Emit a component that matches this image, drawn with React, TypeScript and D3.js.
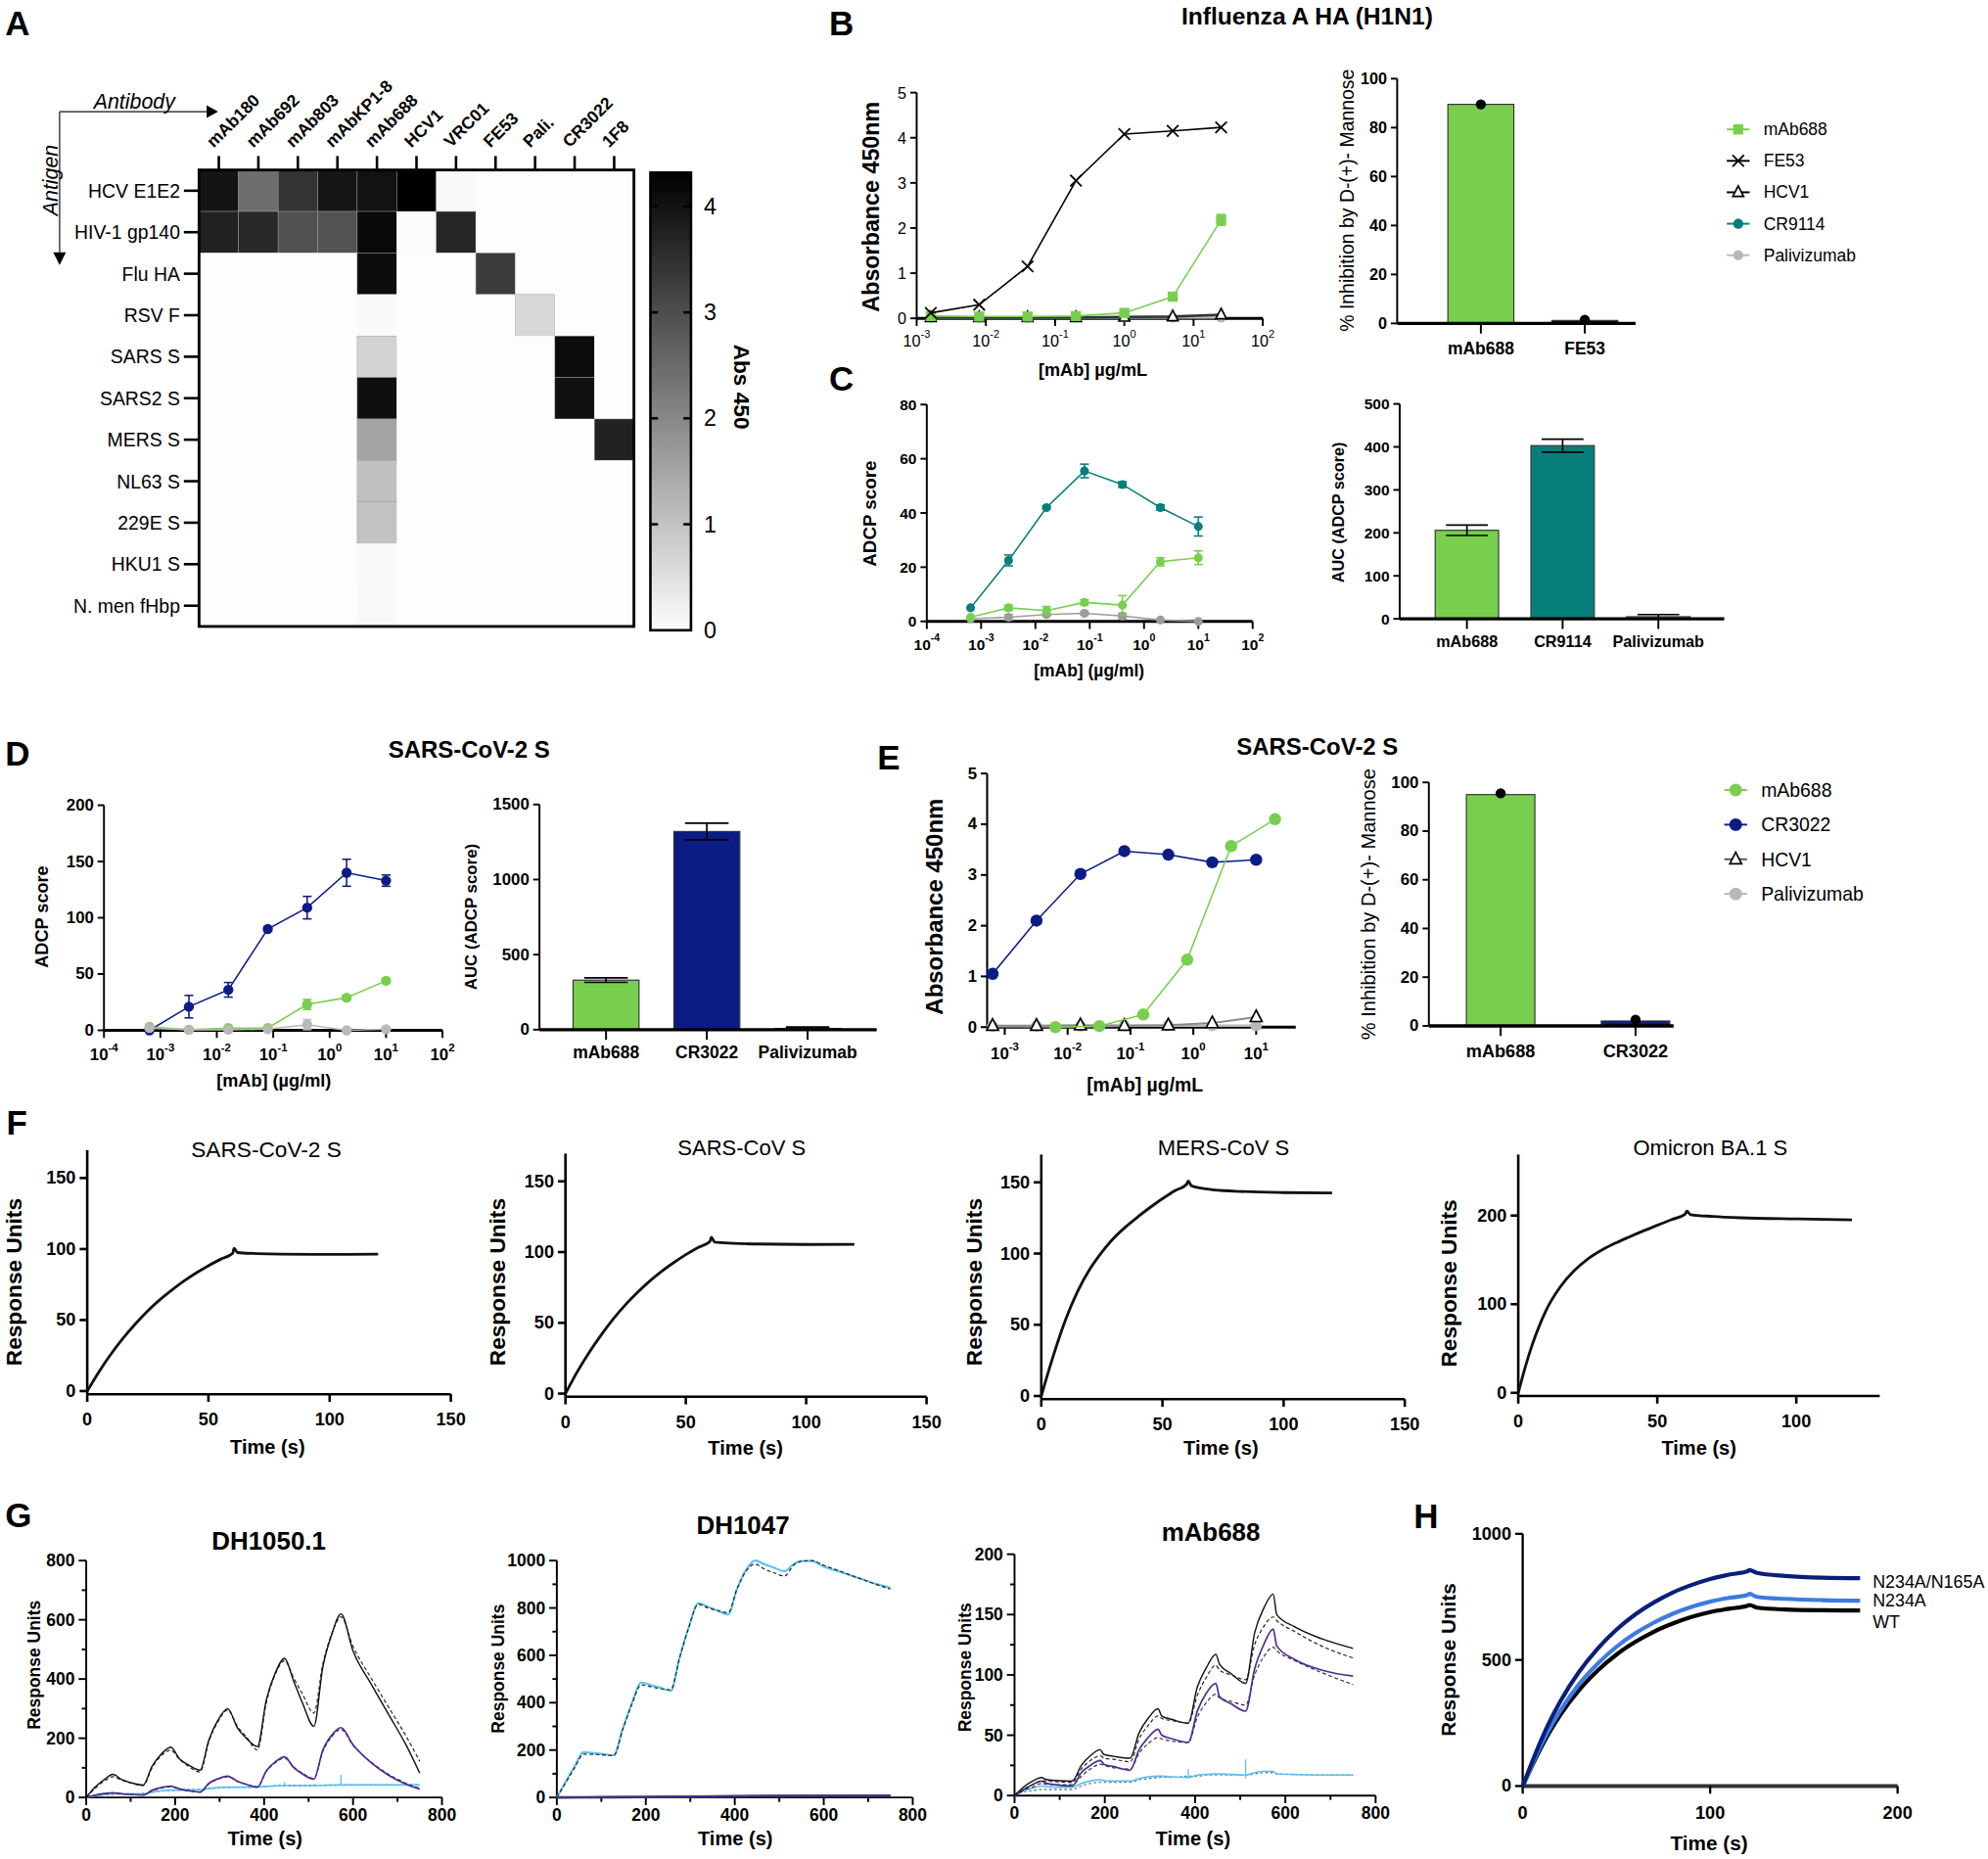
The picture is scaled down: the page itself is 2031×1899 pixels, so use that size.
import React from 'react';
import * as d3 from 'd3';

const FONT = "'Liberation Sans', Arial, Helvetica, sans-serif";
const GREEN = '#78cf4d';
const TEAL = '#077f7b';
const NAVY = '#0c1c85';
const LGRAY = '#b8b8b8';
const MGRAY = '#9c9c9c';
const PURPLE = '#4d2c91';
const CYAN = '#58c3f0';
const BLUE = '#3c7be3';
const DNAVY = '#0b1e78';

// ---------------- Panel A ----------------
const antibodies = ['mAb180', 'mAb692', 'mAb803', 'mAbKP1-8', 'mAb688', 'HCV1', 'VRC01', 'FE53', 'Pali.', 'CR3022', '1F8'];
const antigens = ['HCV E1E2', 'HIV-1 gp140', 'Flu HA', 'RSV F', 'SARS S', 'SARS2 S', 'MERS S', 'NL63 S', '229E S', 'HKU1 S', 'N. men fHbp'];
const absMatrix = [
  [3.97, 2.44, 3.45, 3.94, 4.02, 4.32, 0.06, 0, 0, 0, 0],
  [3.74, 3.62, 2.95, 2.9, 4.17, 0.04, 3.67, 0, 0, 0, 0],
  [0, 0, 0, 0, 4.1, 0, 0, 3.3, 0, 0, 0],
  [0, 0, 0, 0, 0.05, 0, 0, 0, 0.63, 0, 0],
  [0, 0, 0, 0, 0.72, 0, 0, 0, 0, 4.13, 0],
  [0, 0, 0, 0, 4.06, 0, 0, 0, 0, 4.03, 0],
  [0, 0, 0, 0, 1.52, 0, 0, 0, 0, 0, 3.74],
  [0, 0, 0, 0, 1.05, 0, 0, 0, 0, 0, 0],
  [0, 0, 0, 0, 1.0, 0, 0, 0, 0, 0, 0],
  [0, 0, 0, 0, 0.05, 0, 0, 0, 0, 0, 0],
  [0, 0, 0, 0, 0.08, 0, 0, 0, 0, 0, 0],
];
const absMax = 4.32;
const colorbarTicks = [0, 1, 2, 3, 4];

// ---------------- Panel B ----------------
const concB = [0.0016, 0.008, 0.04, 0.2, 1, 5, 25];
const bFE53 = [0.12, 0.3, 1.15, 3.05, 4.08, 4.15, 4.23];
const bMab688 = [0.05, 0.04, 0.04, 0.05, 0.12, 0.48, 2.18];
const bMab688Err = [0, 0, 0, 0.03, 0.05, 0.08, 0.12];
const bHCV1 = [0.02, 0.02, 0.02, 0.02, 0.03, 0.04, 0.08];
const bCR9114 = [0.01, 0.01, 0.01, 0.01, 0.01, 0.01, 0.01];
const bPali = [0.01, 0.01, 0.01, 0.01, 0.01, 0.01, 0.01];
const bInhibCats = ['mAb688', 'FE53'];
const bInhibVals = [89.5, 1.2];
const bInhibDots = [89.5, 1.5];

// ---------------- Panel C ----------------
const concADCP = [0.00064, 0.0032, 0.016, 0.08, 0.4, 2, 10];
const cCR9114 = [5, 22.5, 42, 55.5, 50.5, 42, 35];
const cCR9114Err = [0, 2, 0.5, 2.5, 1, 1, 3.5];
const cMab688 = [1.5, 5, 4, 7, 6, 22, 23.5];
const cMab688Err = [0, 1, 1.5, 1, 3.5, 1.5, 2.5];
const cPali = [1, 1.5, 2.5, 3, 2, 0.5, 0];
const cPaliErr = [0, 1, 0.5, 0.5, 1, 0, 0];
const cAucCats = ['mAb688', 'CR9114', 'Palivizumab'];
const cAucVals = [206, 403, 5];
const cAucErr = [12, 15, 5];

// ---------------- Panel D ----------------
const dCR3022 = [0, 21, 36, 90, 109, 140, 133];
const dCR3022Err = [0, 10, 6.5, 2, 10, 12, 5];
const dMab688 = [3, 0.5, 2, 2, 23, 29, 44];
const dMab688Err = [0, 0, 0, 0, 4.5, 2, 2];
const dPali = [2, 0.5, 0.5, 1, 5, 0, 1];
const dPaliErr = [0, 0, 0, 0, 4.5, 0, 0];
const dAucCats = ['mAb688', 'CR3022', 'Palivizumab'];
const dAucVals = [330, 1320, 8];
const dAucErr = [15, 55, 10];

// ---------------- Panel E ----------------
const eCR3022 = [1.05, 2.1, 3.02, 3.47, 3.4, 3.25, 3.3];
const concEmAb688 = [0.0064, 0.032, 0.16, 0.8, 4, 20];
const eMab688 = [0.0, 0.02, 0.25, 1.33, 3.57, 4.1];
const eHCV1 = [0.03, 0.03, 0.04, 0.03, 0.04, 0.08, 0.2];
const ePali = [0.02, 0.02, 0.02, 0.03, 0.03, 0.03, 0.03];
const eInhibCats = ['mAb688', 'CR3022'];
const eInhibVals = [95, 2];
const eInhibDots = [95.5, 2.5];

// ---------------- Panel F ----------------
const fTime = [0, 5, 10, 15, 20, 25, 30, 35, 40, 45, 50, 55, 60, 60.6, 62, 70, 80, 100, 120];
const fSars2 = [0, 14, 26.5, 37.6, 47.5, 56.5, 64.3, 71.2, 77.6, 83.2, 88.3, 92.8, 97, 100.5, 97.5, 96.8, 96.4, 96.2, 96.4];
const fSars = [0, 15.7, 29.5, 41.8, 53, 62.9, 71.6, 79.5, 86.5, 92.6, 98.2, 103.2, 107.5, 110.5, 107, 106.2, 105.7, 105.4, 105.5];
const fMers = [0, 28.5, 53.5, 73.5, 89, 101, 111, 119, 126, 132.5, 138.5, 144, 148.7, 151, 147.5, 145, 143.8, 142.8, 142.5];
const fTimeOmi = [0, 2.5, 5, 7.5, 10, 15, 20, 25, 30, 35, 40, 45, 50, 55, 60, 60.6, 62, 70, 80, 100, 120];
const fOmicron = [0, 29, 54, 75, 93, 119, 137.5, 151, 161, 169, 176, 182.7, 189, 195.3, 201.5, 205, 201, 199, 197.5, 196.2, 195.2];

// ---------------- Panel G ----------------
const gTime = [0, 20, 40, 60, 80, 100, 128, 148, 168, 190, 210, 230, 256, 276, 296, 318, 340, 360, 385, 405, 425, 446, 466, 486, 512, 532, 552, 573, 600, 640, 680, 720, 750];
const g1Black = [0, 35, 60, 78, 60, 50, 42, 105, 145, 170, 130, 110, 92, 195, 260, 300, 235, 200, 172, 330, 420, 470, 395, 320, 240, 440, 550, 620, 495, 385, 280, 175, 82];
const g1BlackFit = [0, 30, 55, 70, 58, 49, 40, 100, 140, 160, 128, 105, 86, 190, 255, 295, 240, 205, 160, 320, 415, 462, 405, 350, 285, 450, 552, 610, 510, 405, 305, 205, 122];
const g1Purple = [0, 8, 13, 16, 12, 10, 8, 24, 33, 38, 29, 23, 18, 48, 63, 72, 55, 44, 35, 90, 120, 137, 102, 80, 62, 160, 210, 236, 178, 118, 75, 44, 28];
const g1PurpleFit = [0, 7, 12, 15, 12, 10, 8, 22, 31, 36, 28, 22, 18, 46, 61, 70, 54, 44, 36, 88, 117, 133, 103, 82, 64, 155, 205, 230, 176, 120, 78, 47, 30];
const g1Cyan = [0, 6, 10, 12, 12, 12, 12, 18, 22, 25, 25, 25, 26, 30, 33, 35, 35, 35, 35, 37, 39, 40, 40, 40, 40, 41, 42, 42, 42, 42, 42, 42, 42];
const g1CyanFit = [0, 5, 9, 11, 12, 12, 13, 18, 22, 24, 25, 26, 26, 30, 33, 34, 35, 35, 36, 38, 39, 40, 40, 40, 41, 41, 41, 42, 42, 42, 42, 42, 42];
const g1CyanSpikeT = [446, 512, 573];
const g1CyanSpikeV = [52, 46, 76];
const g2Cyan = [0, 68, 132, 192, 188, 184, 178, 290, 395, 485, 475, 465, 450, 590, 715, 820, 805, 790, 772, 880, 960, 1000, 985, 972, 955, 985, 998, 998, 975, 950, 925, 900, 885];
const g2CyanFit = [0, 62, 125, 183, 182, 180, 177, 285, 390, 475, 468, 460, 455, 590, 715, 815, 800, 790, 780, 880, 955, 985, 965, 950, 935, 980, 998, 1000, 980, 953, 925, 898, 880];
const g2LowTime = [0, 128, 256, 385, 512, 750];
const g2LowPurple = [0, 2, 4, 6, 8, 9];
const g2LowBlack = [0, 1, 2, 4, 5, 6];
const g3Time = [0, 20, 40, 60, 68, 90, 128, 148, 168, 190, 198, 220, 256, 276, 296, 318, 326, 350, 385, 405, 425, 446, 454, 480, 512, 532, 552, 573, 581, 620, 680, 750];
const g3Black = [0, 7, 12, 15, 13.5, 12.5, 12, 25, 33, 38, 34, 32.5, 31, 52, 64, 72, 66, 63, 60, 90, 106, 117, 109, 101, 93, 135, 155, 167, 150, 140, 130, 122];
const g3BlackFit = [0, 5, 9, 12, 12, 11.5, 11, 22, 29, 33, 31, 30, 28, 47, 58, 66, 64, 62, 60, 83, 98, 108, 104, 100, 96, 125, 140, 148, 145, 136, 124, 114];
const g3Purple = [0, 5, 9, 12, 10.5, 9, 8, 19, 25, 29, 26, 24, 21, 38, 48, 55, 50, 47, 44, 70, 85, 93, 82, 76, 70, 105, 125, 138, 124, 113, 104, 99];
const g3PurpleFit = [0, 4, 7, 10, 9.5, 9, 9, 16, 22, 26, 25, 23, 22, 35, 43, 48, 47, 45, 44, 65, 77, 84, 81, 78, 75, 100, 115, 123, 120, 112, 102, 92];
const g3Cyan = [0, 4, 6, 8, 7.5, 7, 7, 10, 12, 13, 12.5, 12, 12, 14, 15.5, 16, 16, 15.5, 15, 17, 17.5, 18, 18, 17.5, 17, 19, 20, 20, 18, 17.5, 17, 17];
const g3GrayFit = [0, 3, 4, 5, 5, 5, 5, 8, 10, 11, 11, 11, 11, 13, 14, 15, 15, 15, 16, 16, 17, 17, 17, 17, 17, 18, 19, 19, 18, 17.5, 17, 17];
const g3CyanSpikeT = [128, 385, 512];
const g3CyanSpikeV = [13, 22, 30];

// ---------------- Panel H ----------------
const hTime = [0, 5, 10, 15, 20, 30, 40, 50, 60, 70, 80, 90, 100, 110, 120, 121, 125, 140, 160, 180];
const hDouble = [0, 95, 185, 265, 335, 452, 545, 620, 680, 728, 767, 797, 821, 838, 852, 856, 845, 833, 826, 824];
const hN234A = [0, 85, 165, 236, 298, 403, 485, 552, 605, 648, 683, 710, 731, 746, 758, 762, 750, 742, 737, 735];
const hWT = [0, 80, 155, 222, 281, 380, 458, 521, 571, 612, 644, 670, 690, 703, 715, 718, 707, 700, 697, 696];
const hLabels = ['N234A/N165A', 'N234A', 'WT'];

// ================= helpers =================
function T({ x, y, children, size = 13, anchor = 'middle', bold = false, italic = false, rotate = 0, fill = '#000', baseline = 'central' }: any) {
  return (
    <text transform={`translate(${x},${y}) rotate(${rotate})`} fontSize={size} textAnchor={anchor}
      fontWeight={bold ? 'bold' : 'normal'} fontStyle={italic ? 'italic' : 'normal'} dominantBaseline={baseline} fill={fill}>
      {children}
    </text>
  );
}

function Pow({ e, fs }: { e: number; fs: number }) {
  return <>10<tspan dy={-fs * 0.45} fontSize={fs * 0.68}>{e}</tspan></>;
}

function Marker({ kind, x, y, size, color }: { kind: string; x: number; y: number; size: number; color: string }) {
  if (kind === 'circle') return <circle cx={x} cy={y} r={size} fill={color} />;
  if (kind === 'square') return <rect x={x - size} y={y - size} width={size * 2} height={size * 2} fill={color} />;
  if (kind === 'x') return <path d={`M${x - size},${y - size}L${x + size},${y + size}M${x - size},${y + size}L${x + size},${y - size}`} stroke={color} strokeWidth={1.4} fill="none" />;
  if (kind === 'tri') return <path d={`M${x},${y - size}L${x + size * 0.85},${y + size * 0.65}L${x - size * 0.85},${y + size * 0.65}Z`} fill="#fff" stroke={color} strokeWidth={1.3} />;
  return null;
}

type LSeries = { x: number[]; y: number[]; err?: number[]; color: string; line: string; kind: string; size: number; lw?: number };

function LogLineChart(p: any) {
  const xs = d3.scaleLog().domain([10 ** p.lo, 10 ** p.hi]).range([p.x0, p.x1]);
  const ys = d3.scaleLinear().domain([0, p.yMax]).range([p.y0, p.y1]);
  const aw = p.aw ?? 1.5;
  const series: LSeries[] = p.series;
  return (
    <g>
      <g stroke="#000" strokeWidth={aw}>
        <line x1={p.x0} x2={p.x0} y1={p.y0 + aw / 2} y2={p.y1} />
        <line x1={p.x0} x2={p.x1} y1={p.y0} y2={p.y0} strokeWidth={aw + 0.8} />
        {p.yTicks.map((t: number) => <line key={t} x1={p.x0 - 5} x2={p.x0} y1={ys(t)} y2={ys(t)} />)}
        {p.xExps.map((e: number) => <line key={e} x1={xs(10 ** e)} x2={xs(10 ** e)} y1={p.y0} y2={p.y0 + 6} />)}
      </g>
      {p.yTicks.map((t: number) => <T key={t} x={p.x0 - 8} y={ys(t)} size={p.tf} bold={p.tb} anchor="end">{t}</T>)}
      {p.xExps.map((e: number) => <T key={e} x={xs(10 ** e)} y={p.y0 + p.xlOff} size={p.tf} bold={p.tb}><Pow e={e} fs={p.tf} /></T>)}
      {series.map((s, si) => {
        const pts = s.x.map((xv, i) => [xs(xv), ys(s.y[i])] as [number, number]);
        return (
          <g key={si}>
            <path d={d3.line()(pts) ?? ''} fill="none" stroke={s.line} strokeWidth={s.lw ?? 1.2} />
            {s.err && s.err.map((e, i) => e > 0 ? (
              <g key={i} stroke={s.line} strokeWidth={1.2}>
                <line x1={pts[i][0]} x2={pts[i][0]} y1={ys(s.y[i] - e)} y2={ys(s.y[i] + e)} />
                <line x1={pts[i][0] - 3.5} x2={pts[i][0] + 3.5} y1={ys(s.y[i] + e)} y2={ys(s.y[i] + e)} />
                <line x1={pts[i][0] - 3.5} x2={pts[i][0] + 3.5} y1={ys(s.y[i] - e)} y2={ys(s.y[i] - e)} />
              </g>) : null)}
            {pts.map((pt, i) => <Marker key={i} kind={s.kind} x={pt[0]} y={pt[1]} size={s.size} color={s.color} />)}
          </g>
        );
      })}
    </g>
  );
}

function BarChart(p: any) {
  const xs = d3.scalePoint<string>().domain(p.cats).range([p.c0, p.c1]);
  const ys = d3.scaleLinear().domain([0, p.yMax]).range([p.y0, p.y1]);
  const cap = p.bw * 0.33;
  return (
    <g>
      {p.cats.map((c: string, i: number) => {
        const cx = xs(c) as number;
        const v = p.vals[i];
        return (
          <g key={c}>
            <rect x={cx - p.bw / 2} y={ys(v)} width={p.bw} height={p.y0 - ys(v)} fill={p.colors[i]} stroke="#333" strokeWidth={0.9} />
            {p.errs && (
              <g stroke="#000" strokeWidth={1.3}>
                <line x1={cx} x2={cx} y1={ys(v - p.errs[i])} y2={ys(v + p.errs[i])} />
                <line x1={cx - cap} x2={cx + cap} y1={ys(v + p.errs[i])} y2={ys(v + p.errs[i])} />
                <line x1={cx - cap} x2={cx + cap} y1={ys(v - p.errs[i])} y2={ys(v - p.errs[i])} />
              </g>
            )}
            {p.dots && <circle cx={cx} cy={ys(p.dots[i])} r={4} fill="#000" />}
            <line x1={cx} x2={cx} y1={p.y0} y2={p.y0 + 8} stroke="#000" strokeWidth={1.5} />
            <T x={cx} y={p.y0 + p.labOff} size={p.lf} bold>{c}</T>
          </g>
        );
      })}
      <g stroke="#000" strokeWidth={1.5}>
        <line x1={p.x0} x2={p.x0} y1={p.y0} y2={p.y1} />
        {p.yTicks.map((t: number) => <line key={t} x1={p.x0 - 5} x2={p.x0} y1={ys(t)} y2={ys(t)} />)}
      </g>
      <line x1={p.x0} x2={p.x1} y1={p.y0} y2={p.y0} stroke="#000" strokeWidth={2.6} />
      {p.yTicks.map((t: number) => <T key={t} x={p.x0 - 8} y={ys(t)} size={p.tf} bold anchor="end">{t}</T>)}
    </g>
  );
}

type Curve = { t: number[]; v: number[]; color: string; w: number; dash?: string };

function SprChart(p: any) {
  const xs = d3.scaleLinear().domain([0, p.xMax]).range([p.x0, p.x1]);
  const ys = d3.scaleLinear().domain([0, p.yRef]).range([p.y0, p.yRefPx]);
  const ax = p.y0 + (p.axisOff ?? 0);
  const line = d3.line<[number, number]>().x(d => xs(d[0])).y(d => ys(d[1])).curve(d3.curveMonotoneX);
  const curves: Curve[] = p.curves;
  return (
    <g>
      <g stroke="#000" strokeWidth={p.aw}>
        <line x1={p.x0} x2={p.x0} y1={ax} y2={p.yTop} />
        <line x1={p.x0} x2={p.x1} y1={ax} y2={ax} strokeWidth={p.xaw ?? p.aw} stroke={p.xac ?? '#000'} />
        {p.yTicks.map((t: number) => <line key={t} x1={p.x0 - 6} x2={p.x0} y1={ys(t)} y2={ys(t)} />)}
        {(p.yMinor ?? []).map((t: number) => <line key={'m' + t} x1={p.x0 - 3.5} x2={p.x0} y1={ys(t)} y2={ys(t)} />)}
        {p.xTicks.map((t: number) => <line key={t} x1={xs(t)} x2={xs(t)} y1={ax} y2={ax + 6} />)}
        {(p.xMinor ?? []).map((t: number) => <line key={'m' + t} x1={xs(t)} x2={xs(t)} y1={ax} y2={ax + 3.5} />)}
      </g>
      {p.yTicks.map((t: number) => <T key={t} x={p.x0 - 9} y={ys(t)} size={p.tf} bold anchor="end">{t}</T>)}
      {p.xTicks.map((t: number) => <T key={t} x={xs(t)} y={ax + p.xlOff} size={p.tf} bold>{t}</T>)}
      {curves.map((c, i) => (
        <path key={i} d={line(c.t.map((t, j) => [t, c.v[j]] as [number, number])) ?? ''} fill="none"
          stroke={c.color} strokeWidth={c.w} strokeDasharray={c.dash} strokeLinejoin="round" />
      ))}
      {(p.spikes ?? []).map((s: any, i: number) => (
        <line key={'s' + i} x1={xs(s.t)} x2={xs(s.t)} y1={ys(s.v0)} y2={ys(s.v1)} stroke={s.color} strokeWidth={1} />
      ))}
    </g>
  );
}

// ================= panels =================
function PanelA() {
  const xb = d3.scaleBand<string>().domain(antibodies).range([157, 500]);
  const yb = d3.scaleBand<string>().domain(antigens).range([134, 494]);
  const color = d3.scaleLinear<string>().domain([0, absMax]).range(['#fdfdfd', '#000000']);
  const cb = d3.scaleLinear().domain([0, absMax]).range([497, 136]);
  return (
    <g>
      <T x={4} y={28} size={27} bold anchor="start" baseline="auto">A</T>
      {antigens.map((ag, i) => antibodies.map((ab, j) => (
        <rect key={ag + ab} x={xb(ab)} y={yb(ag)} width={xb.bandwidth()} height={yb.bandwidth()} fill={color(absMatrix[i][j])}
          stroke={absMatrix[i][j] > 0.3 ? '#9a9a9a' : 'none'} strokeWidth={0.35} />
      )))}
      <rect x={157} y={134} width={343} height={360} fill="none" stroke="#000" strokeWidth={2.2} />
      {antibodies.map(ab => {
        const cx = (xb(ab) as number) + xb.bandwidth() / 2;
        return (
          <g key={ab}>
            <line x1={cx} x2={cx} y1={123} y2={134} stroke="#000" strokeWidth={2} />
            <T x={cx - 4} y={117} size={13.5} bold anchor="start" baseline="auto" rotate={-45}>{ab}</T>
          </g>
        );
      })}
      {antigens.map(ag => {
        const cy = (yb(ag) as number) + yb.bandwidth() / 2;
        return (
          <g key={ag}>
            <line x1={145} x2={157} y1={cy} y2={cy} stroke="#000" strokeWidth={2} />
            <T x={142} y={cy} size={15} anchor="end">{ag}</T>
          </g>
        );
      })}
      <g stroke="#555" strokeWidth={1.3} fill="none">
        <path d="M47,88 L163,88" />
        <path d="M47,88 L47,199" />
      </g>
      <path d="M163,83 L172,88 L163,93 Z" fill="#000" />
      <path d="M42,199 L47,209 L52,199 Z" fill="#000" />
      <T x={106} y={80} size={16.5} italic>Antibody</T>
      <T x={40} y={142} size={16.5} italic rotate={-90}>Antigen</T>
      <defs>
        <linearGradient id="absGrad" x1="0" y1="1" x2="0" y2="0">
          <stop offset="0" stopColor={color(0)} />
          <stop offset="1" stopColor={color(absMax)} />
        </linearGradient>
      </defs>
      <rect x={513} y={136} width={32} height={361} fill="url(#absGrad)" stroke="#000" strokeWidth={2} />
      {colorbarTicks.map(t => (
        <g key={t}>
          {t > 0 && <line x1={513} x2={519} y1={cb(t)} y2={cb(t)} stroke="#000" strokeWidth={2} />}
          {t > 0 && <line x1={539} x2={545} y1={cb(t)} y2={cb(t)} stroke="#000" strokeWidth={2} />}
          <T x={555} y={cb(t)} size={18} anchor="start">{t}</T>
        </g>
      ))}
      <T x={585} y={305} size={17.5} bold rotate={90}>Abs 450</T>
    </g>
  );
}

const legendB = [
  { name: 'mAb688', color: GREEN, line: GREEN, kind: 'square', size: 4 },
  { name: 'FE53', color: '#000', line: '#000', kind: 'x', size: 4.5 },
  { name: 'HCV1', color: '#000', line: '#000', kind: 'tri', size: 5 },
  { name: 'CR9114', color: TEAL, line: TEAL, kind: 'circle', size: 4 },
  { name: 'Palivizumab', color: LGRAY, line: LGRAY, kind: 'circle', size: 4 },
];

const legendE = [
  { name: 'mAb688', color: GREEN, line: GREEN, kind: 'circle', size: 5 },
  { name: 'CR3022', color: NAVY, line: NAVY, kind: 'circle', size: 5 },
  { name: 'HCV1', color: '#000', line: '#555', kind: 'tri', size: 5.5 },
  { name: 'Palivizumab', color: LGRAY, line: LGRAY, kind: 'circle', size: 5 },
];

function Legend({ items, x, y0, dy, fs }: any) {
  return (
    <g>
      {items.map((it: any, i: number) => {
        const y = y0 + i * dy;
        return (
          <g key={it.name}>
            <line x1={x - 9} x2={x + 9} y1={y} y2={y} stroke={it.line} strokeWidth={1.5} />
            <Marker kind={it.kind} x={x} y={y} size={it.size} color={it.color} />
            <T x={x + 20} y={y} size={fs} anchor="start">{it.name}</T>
          </g>
        );
      })}
    </g>
  );
}

function PanelB() {
  return (
    <g>
      <T x={654} y={28} size={27} bold anchor="start" baseline="auto">B</T>
      <T x={1031} y={13} size={19} bold>Influenza A HA (H1N1)</T>
      <LogLineChart x0={723} x1={996} y0={251} y1={73} lo={-3} hi={2} yMax={5} yTicks={[0, 1, 2, 3, 4, 5]}
        xExps={[-3, -2, -1, 0, 1, 2]} tf={12.5} tb={false} xlOff={18}
        series={[
          { x: concB, y: bCR9114, color: TEAL, line: TEAL, kind: 'circle', size: 3.5 },
          { x: concB, y: bPali, color: LGRAY, line: LGRAY, kind: 'circle', size: 3.5 },
          { x: concB, y: bHCV1, color: '#000', line: '#333', kind: 'tri', size: 5, lw: 2 },
          { x: concB, y: bMab688, err: bMab688Err, color: GREEN, line: GREEN, kind: 'square', size: 4 },
          { x: concB, y: bFE53, color: '#000', line: '#000', kind: 'x', size: 4.5 },
        ]} />
      <T x={862} y={292} size={14} bold>[mAb] µg/mL</T>
      <T x={687} y={163} size={18} bold rotate={-90}>Absorbance 450nm</T>
      <BarChart x0={1102} x1={1290} y0={255} y1={62} yMax={100} yTicks={[0, 20, 40, 60, 80, 100]}
        cats={bInhibCats} c0={1168} c1={1250} bw={52} vals={bInhibVals} dots={bInhibDots}
        colors={[GREEN, '#111']} tf={12.5} lf={13.5} labOff={20} />
      <T x={1062} y={158} size={15} rotate={-90}>% Inhibition by D-(+)- Mannose</T>
      <Legend items={legendB} x={1371} y0={102} dy={24.8} fs={13.5} />
    </g>
  );
}

function PanelC() {
  return (
    <g>
      <T x={654} y={308} size={27} bold anchor="start" baseline="auto">C</T>
      <LogLineChart x0={731} x1={988} y0={490} y1={319} lo={-4} hi={2} yMax={80} yTicks={[0, 20, 40, 60, 80]}
        xExps={[-4, -3, -2, -1, 0, 1, 2]} tf={12} tb xlOff={18}
        series={[
          { x: concADCP, y: cPali, err: cPaliErr, color: MGRAY, line: MGRAY, kind: 'circle', size: 3.5 },
          { x: concADCP, y: cMab688, err: cMab688Err, color: GREEN, line: GREEN, kind: 'circle', size: 3.5 },
          { x: concADCP, y: cCR9114, err: cCR9114Err, color: TEAL, line: TEAL, kind: 'circle', size: 3.5 },
        ]} />
      <T x={859} y={529} size={13.5} bold>[mAb] (µg/ml)</T>
      <T x={686} y={405} size={14.5} bold rotate={-90}>ADCP score</T>
      <BarChart x0={1104} x1={1360} y0={488} y1={318.5} yMax={500} yTicks={[0, 100, 200, 300, 400, 500]}
        cats={cAucCats} c0={1157} c1={1308} bw={50} vals={cAucVals} errs={cAucErr}
        colors={[GREEN, TEAL, MGRAY]} tf={12} lf={12.5} labOff={18} />
      <T x={1055} y={404} size={12.5} bold rotate={-90}>AUC (ADCP score)</T>
    </g>
  );
}

function PanelD() {
  return (
    <g>
      <T x={4} y={604} size={27} bold anchor="start" baseline="auto">D</T>
      <T x={370} y={591} size={18.5} bold>SARS-CoV-2 S</T>
      <LogLineChart x0={82} x1={349} y0={812.5} y1={635} lo={-4} hi={2} yMax={200} yTicks={[0, 50, 100, 150, 200]}
        xExps={[-4, -3, -2, -1, 0, 1, 2]} tf={13} tb xlOff={19}
        series={[
          { x: concADCP, y: dCR3022, err: dCR3022Err, color: NAVY, line: NAVY, kind: 'circle', size: 4 },
          { x: concADCP, y: dMab688, err: dMab688Err, color: GREEN, line: GREEN, kind: 'circle', size: 4 },
          { x: concADCP, y: dPali, err: dPaliErr, color: LGRAY, line: LGRAY, kind: 'circle', size: 4 },
        ]} />
      <T x={216} y={852} size={14} bold>[mAb] (µg/ml)</T>
      <T x={33} y={723} size={14} bold rotate={-90}>ADCP score</T>
      <BarChart x0={425.5} x1={691.5} y0={812} y1={634.4} yMax={1500} yTicks={[0, 500, 1000, 1500]}
        cats={dAucCats} c0={478} c1={637} bw={52} vals={dAucVals} errs={dAucErr}
        colors={[GREEN, NAVY, MGRAY]} tf={13} lf={13.5} labOff={18} />
      <T x={372} y={723} size={13} bold rotate={-90}>AUC (ADCP score)</T>
    </g>
  );
}

function PanelE() {
  return (
    <g>
      <T x={692} y={607} size={27} bold anchor="start" baseline="auto">E</T>
      <T x={1039} y={589} size={18.5} bold>SARS-CoV-2 S</T>
      <LogLineChart x0={778.6} x1={1022} y0={810} y1={610} lo={-3.28} hi={1.63} yMax={5} yTicks={[0, 1, 2, 3, 4, 5]}
        xExps={[-3, -2, -1, 0, 1]} tf={13} tb xlOff={21} aw={1.6}
        series={[
          { x: concADCP, y: ePali, color: LGRAY, line: LGRAY, kind: 'circle', size: 4.5, lw: 2 },
          { x: concADCP, y: eHCV1, color: '#000', line: '#888', kind: 'tri', size: 5.5, lw: 1.5 },
          { x: concADCP, y: eCR3022, color: NAVY, line: NAVY, kind: 'circle', size: 4.8 },
          { x: concEmAb688, y: eMab688, color: GREEN, line: GREEN, kind: 'circle', size: 4.8 },
        ]} />
      <T x={903} y={855} size={15} bold>[mAb] µg/mL</T>
      <T x={737} y={715} size={18.5} bold rotate={-90}>Absorbance 450nm</T>
      <BarChart x0={1127} x1={1320} y0={809} y1={617} yMax={100} yTicks={[0, 20, 40, 60, 80, 100]}
        cats={eInhibCats} c0={1183.6} c1={1290} bw={54} vals={eInhibVals} dots={eInhibDots}
        colors={[GREEN, NAVY]} tf={13} lf={14} labOff={20} />
      <T x={1079} y={713} size={15.5} rotate={-90}>% Inhibition by D-(+)- Mannose</T>
      <Legend items={legendE} x={1369} y0={623} dy={27.3} fs={15} />
    </g>
  );
}

function PanelF() {
  const common = { xMax: 150, yRef: 150, axisOff: 2.5, aw: 2, tf: 14, xlOff: 20 };
  return (
    <g>
      <T x={5} y={895} size={27} bold anchor="start" baseline="auto">F</T>
      <SprChart {...common} x0={68.8} x1={355.6} y0={1097} yRefPx={929} yTop={907}
        xTicks={[0, 50, 100, 150]} yTicks={[0, 50, 100, 150]}
        curves={[{ t: fTime, v: fSars2, color: '#111', w: 2.2 }]} />
      <T x={210} y={906} size={17.5}>SARS-CoV-2 S</T>
      <T x={11} y={1011} size={17.5} bold rotate={-90}>Response Units</T>
      <T x={211} y={1141} size={15.5} bold>Time (s)</T>

      <SprChart {...common} x0={446} x1={730.8} y0={1099} yRefPx={931.6} yTop={909.7}
        xTicks={[0, 50, 100, 150]} yTicks={[0, 50, 100, 150]}
        curves={[{ t: fTime, v: fSars, color: '#111', w: 2.2 }]} />
      <T x={585} y={905} size={17}>SARS-CoV S</T>
      <T x={392} y={1011} size={17.5} bold rotate={-90}>Response Units</T>
      <T x={588} y={1142} size={15.5} bold>Time (s)</T>

      <SprChart {...common} x0={821.3} x1={1108} y0={1100.9} yRefPx={932.4} yTop={910.5}
        xTicks={[0, 50, 100, 150]} yTicks={[0, 50, 100, 150]}
        curves={[{ t: fTime, v: fMers, color: '#111', w: 2.2 }]} />
      <T x={965} y={905} size={17}>MERS-CoV S</T>
      <T x={768} y={1011} size={17.5} bold rotate={-90}>Response Units</T>
      <T x={963} y={1142} size={15.5} bold>Time (s)</T>

      <SprChart {...common} xMax={130} yRef={200} x0={1197.5} x1={1482.6} y0={1098.4} yRefPx={958.6} yTop={910.5}
        xTicks={[0, 50, 100]} yTicks={[0, 100, 200]}
        curves={[{ t: fTimeOmi, v: fOmicron, color: '#111', w: 2.2 }]} />
      <T x={1349} y={905} size={17}>Omicron BA.1 S</T>
      <T x={1142.6} y={1012} size={17.5} bold rotate={-90}>Response Units</T>
      <T x={1340} y={1142} size={15.5} bold>Time (s)</T>
    </g>
  );
}

function PanelG() {
  const common = { xMax: 800, axisOff: 0, aw: 1.5, tf: 13.5, xlOff: 14, xTicks: [0, 200, 400, 600, 800], xMinor: [100, 300, 500, 700] };
  return (
    <g>
      <T x={4} y={1204} size={27} bold anchor="start" baseline="auto">G</T>
      <SprChart {...common} x0={68} x1={348.6} y0={1417.5} yRef={800} yRefPx={1230.7} yTop={1230.7}
        yTicks={[0, 200, 400, 600, 800]} yMinor={[100, 300, 500, 700]}
        curves={[
          { t: gTime, v: g1CyanFit, color: '#333', w: 1, dash: '2,2' },
          { t: gTime, v: g1Cyan, color: CYAN, w: 1.3 },
          { t: gTime, v: g1PurpleFit, color: '#222', w: 0.9, dash: '3,2' },
          { t: gTime, v: g1Purple, color: PURPLE, w: 1.3 },
          { t: gTime, v: g1BlackFit, color: '#222', w: 0.9, dash: '3,2' },
          { t: gTime, v: g1Black, color: '#111', w: 1.1 },
        ]}
        spikes={g1CyanSpikeT.map((t, i) => ({ t, v0: 40, v1: g1CyanSpikeV[i], color: CYAN }))} />
      <T x={212} y={1215} size={20} bold>DH1050.1</T>
      <T x={27} y={1313} size={13.5} bold rotate={-90}>Response Units</T>
      <T x={209} y={1450} size={15.5} bold>Time (s)</T>

      <SprChart {...common} x0={439.2} x1={719.9} y0={1417.5} yRef={1000} yRefPx={1230.7} yTop={1230.7}
        yTicks={[0, 200, 400, 600, 800, 1000]} yMinor={[100, 300, 500, 700, 900]}
        curves={[
          { t: g2LowTime, v: g2LowBlack, color: '#333', w: 2 },
          { t: g2LowTime, v: g2LowPurple, color: PURPLE, w: 1.5 },
          { t: gTime, v: g2Cyan, color: CYAN, w: 1.6 },
          { t: gTime, v: g2CyanFit, color: '#222', w: 0.9, dash: '3,2' },
        ]} />
      <T x={586} y={1203} size={20} bold>DH1047</T>
      <T x={393} y={1316} size={13.5} bold rotate={-90}>Response Units</T>
      <T x={580} y={1450} size={15.5} bold>Time (s)</T>

      <SprChart {...common} x0={800.2} x1={1085} y0={1416} yRef={200} yRefPx={1225.7} yTop={1225.7}
        yTicks={[0, 50, 100, 150, 200]} yMinor={[25, 75, 125, 175]}
        curves={[
          { t: g3Time, v: g3GrayFit, color: '#777', w: 1, dash: '2,2' },
          { t: g3Time, v: g3Cyan, color: CYAN, w: 1.3 },
          { t: g3Time, v: g3PurpleFit, color: '#333', w: 0.9, dash: '3,2' },
          { t: g3Time, v: g3Purple, color: PURPLE, w: 1.3 },
          { t: g3Time, v: g3BlackFit, color: '#222', w: 0.9, dash: '3,2' },
          { t: g3Time, v: g3Black, color: '#111', w: 1.1 },
        ]}
        spikes={g3CyanSpikeT.map((t, i) => ({ t, v0: 14, v1: g3CyanSpikeV[i], color: CYAN }))} />
      <T x={955} y={1208} size={20} bold>mAb688</T>
      <T x={761} y={1315} size={13.5} bold rotate={-90}>Response Units</T>
      <T x={941} y={1450} size={15.5} bold>Time (s)</T>
    </g>
  );
}

function PanelH() {
  const series = [hDouble, hN234A, hWT];
  const colors = [DNAVY, BLUE, '#000'];
  const labelY = [1247.4, 1262.3, 1279];
  return (
    <g>
      <T x={1115} y={1205} size={27} bold anchor="start" baseline="auto">H</T>
      <SprChart x0={1201} x1={1496.7} xMax={200} y0={1408.5} yRef={1000} yRefPx={1209.6} yTop={1209.6}
        axisOff={0} aw={1.8} xaw={3} xac="#333" tf={14} xlOff={21}
        xTicks={[0, 100, 200]} yTicks={[0, 500, 1000]}
        curves={series.map((v, i) => ({ t: hTime, v, color: colors[i], w: 3.2 })).reverse()} />
      {hLabels.map((l, i) => <T key={l} x={1477} y={labelY[i]} size={13.8} anchor="start">{l}</T>)}
      <T x={1142} y={1309} size={16} bold rotate={-90}>Response Units</T>
      <T x={1348} y={1453} size={16} bold>Time (s)</T>
    </g>
  );
}

export default function App() {
  return (
    <svg width={2031} height={1899} viewBox="0 0 1568 1466" fontFamily={FONT}
      style={{ position: 'absolute', left: 0, top: 0, background: '#fff', display: 'block' }}>
      <rect x={0} y={0} width={1568} height={1466} fill="#fff" />
      <PanelA />
      <PanelB />
      <PanelC />
      <PanelD />
      <PanelE />
      <PanelF />
      <PanelG />
      <PanelH />
    </svg>
  );
}
